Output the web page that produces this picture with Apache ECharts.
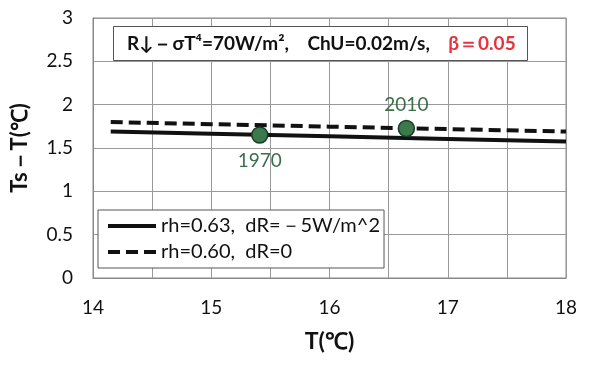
<!DOCTYPE html>
<html><head><meta charset="utf-8">
<script src="https://cdn.jsdelivr.net/npm/echarts@6/dist/echarts.min.js"></script>
<style>html,body{margin:0;padding:0;background:#fff}#c{width:600px;height:370px}</style>
</head><body><div id="c"></div>
<script>
const tempSolid = [14.15, 15, 16, 17, 18];
const valSolid = [1.69, 1.665, 1.635, 1.605, 1.575];
const tempDash = [14.15, 15, 16, 17, 18];
const valDash = [1.80, 1.775, 1.746, 1.718, 1.69];
const pointYears = ['1970', '2010'];
const pointT = [15.41, 16.65];
const pointV = [1.65, 1.725];
const nameSolid = 'rh=0.63,  dR=\uff0d5W/m^2';
const nameDash = 'rh=0.60,  dR=0';

const FONT = 'Lato';
const chart = echarts.init(document.getElementById('c'));
chart.setOption({
  animation: false,
  textStyle: {fontFamily: FONT},
  grid: {left: 93, right: 34, top: 18, bottom: 92, show: true, borderColor: '#888', borderWidth: 1},
  title: {
    text: '{b|R\u2193\uff0d\u03c3T\u2074=70W/m\u00b2,    ChU=0.02m/s,    }{r|\u03b2\uff1d0.05}',
    left: 113, top: 26, padding: [8, 12, 8, 14],
    borderColor: '#555', borderWidth: 1, backgroundColor: '#fff',
    textStyle: {rich: {
      b: {fontFamily: FONT, fontSize: 19, color: '#111'},
      r: {fontFamily: FONT, fontSize: 19, color: '#e8323e'}
    }}
  },
  legend: {
    left: 98, top: 210, orient: 'vertical', itemGap: 6,
    padding: [6, 4, 6, 8],
    borderColor: '#555', borderWidth: 1, backgroundColor: '#fff',
    itemWidth: 48, itemHeight: 14,
    itemStyle: {opacity: 0},
    lineStyle: {width: 4},
    textStyle: {fontFamily: FONT, fontSize: 20, color: '#111'},
    data: [nameSolid, nameDash]
  },
  xAxis: {
    type: 'value', min: 14, max: 18, interval: 0.5,
    name: 'T(\u2103)', nameLocation: 'middle', nameGap: 52,
    nameTextStyle: {fontFamily: FONT, fontSize: 23, fontWeight: 'bold', color: '#111'},
    axisLine: {lineStyle: {color: '#888'}}, axisTick: {show: false},
    axisLabel: {margin: 20, fontSize: 19, color: '#111', formatter: v => Number.isInteger(v) ? String(v) : ''},
    splitLine: {lineStyle: {color: '#999'}}
  },
  yAxis: {
    type: 'value', min: 0, max: 3, interval: 0.5,
    name: 'Ts\uff0dT(\u2103)', nameLocation: 'middle', nameGap: 62, nameRotate: 90,
    nameTextStyle: {fontFamily: FONT, fontSize: 22, fontWeight: 'bold', color: '#111'},
    axisLine: {show: true, lineStyle: {color: '#888'}}, axisTick: {show: false},
    axisLabel: {margin: 20, fontSize: 19, color: '#111'},
    splitLine: {lineStyle: {color: '#999'}}
  },
  series: [
    {name: nameSolid, type: 'line', symbol: 'none', data: tempSolid.map((t, i) => [t, valSolid[i]]),
     lineStyle: {color: '#111', width: 4}, itemStyle: {color: '#111'}},
    {name: nameDash, type: 'line', symbol: 'none', data: tempDash.map((t, i) => [t, valDash[i]]),
     lineStyle: {color: '#111', width: 4, type: [12, 6]}, itemStyle: {color: '#111'}},
    {type: 'scatter', symbolSize: 16, z: 5,
     itemStyle: {color: '#3a7a4c', borderColor: '#1d3a25', borderWidth: 1.5, opacity: 1},
     data: pointT.map((t, i) => ({value: [t, pointV[i]], name: pointYears[i],
       label: {show: true, formatter: pointYears[i], position: i === 0 ? 'bottom' : 'top', distance: i === 0 ? 8 : 5,
         fontFamily: FONT, fontSize: 19, color: '#3a7048'}}))}
  ]
});
</script></body></html>
